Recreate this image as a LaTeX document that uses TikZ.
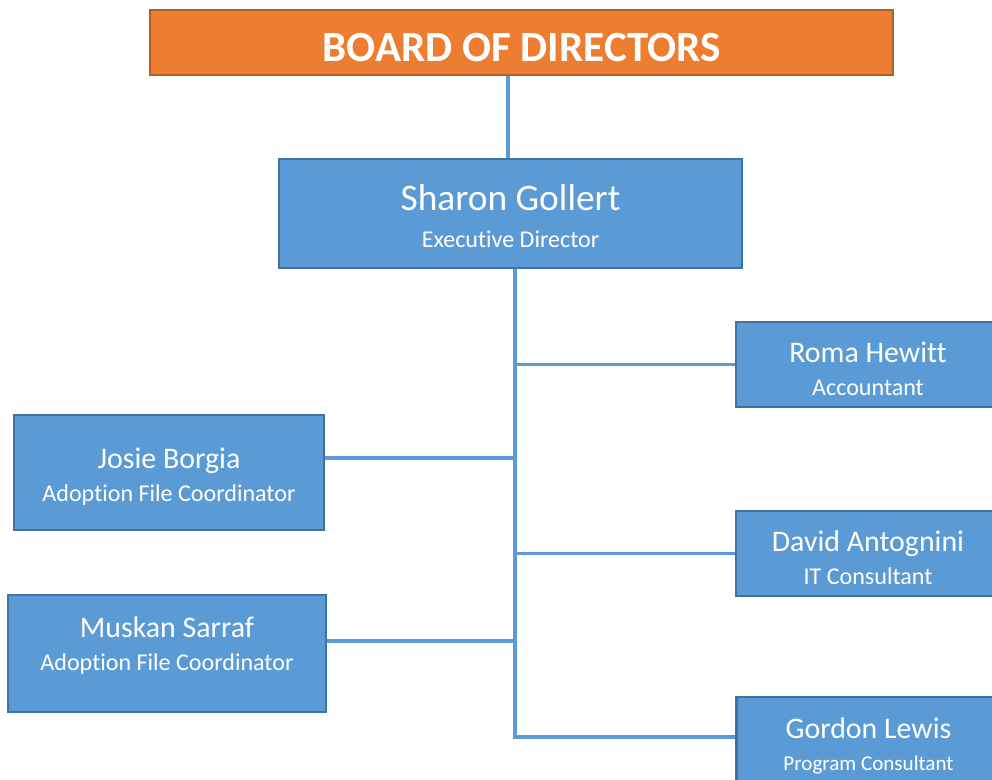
\documentclass[tikz,border=0pt]{standalone}
\usepackage{fontspec}
\setmainfont{Carlito}[Ligatures=NoCommon]
\usetikzlibrary{positioning}

\definecolor{boardfill}{HTML}{ED7D31}
\definecolor{boardedge}{HTML}{B15F25}
\definecolor{stafffill}{HTML}{5B9BD5}
\definecolor{staffedge}{HTML}{41719C}

\tikzset{
  board/.style={rectangle,fill=boardfill,draw=boardedge,line width=1.4pt,
    text=white,font=\fontsize{24.5}{30}\selectfont\bfseries,
    text height=21.8pt,text depth=0pt,
    minimum width=14.86cm,minimum height=1.3cm,inner sep=0pt},
  staff/.style={rectangle,fill=stafffill,draw=staffedge,line width=1.3pt,
    text=white,align=center,inner sep=0pt,
    font=\fontsize{17}{20}\selectfont,
    minimum width=5.28cm,minimum height=1.7cm},
  link/.style={draw=stafffill,line width=1.8pt}
}
\newcommand{\role}[1]{{\fontsize{13.7}{16}\selectfont #1}}
\newcommand{\person}[2]{\rule{0pt}{16.5pt}#1\\[-1pt]\role{#2}}

\begin{document}
\begin{tikzpicture}[x=0.02cm,y=-0.02cm]

\useasboundingbox (0,0) rectangle (992,779);
\clip (0,0) rectangle (992,779);

% top of the chart
\node[board] (board) at (521.5,42.5) {BOARD OF DIRECTORS};
\node[staff,minimum width=9.26cm,minimum height=2.18cm,
  font=\fontsize{21.3}{24}\selectfont] (sharon) at (510.5,213.5)
  {\rule{0pt}{18pt}Sharon Gollert\\[-3pt]\role{Executive Director}};

% right column
\node[staff] (roma) at (868,364.5) {\person{Roma Hewitt}{Accountant}};
\node[staff] (david) at (868,553.5) {\person{David Antognini}{IT Consultant}};
\node[staff,minimum height=1.8cm] (gordon) at (868.5,742)
  {\rule{0pt}{16.5pt}Gordon Lewis\\[-2pt]{\fontsize{12}{15}\selectfont Program Consultant}};

% left column
\node[staff,minimum width=6.2cm,minimum height=2.3cm] (josie) at (169,472.5)
  {\person{Josie Borgia}{Adoption File Coordinator}};
\node[staff,minimum width=6.36cm,minimum height=2.34cm,text depth=16pt] (muskan) at (167,653.5)
  {\person{Muskan Sarraf}{Adoption File Coordinator}};

% connectors
\coordinate (trunk) at ([xshift=0.09cm]sharon.south);
\draw[link] (board.south -| 508,0) -- (sharon.north -| 508,0);
\draw[link] (trunk) |- ([yshift=0.1cm]gordon.west);
\draw[link] (roma.west) -- (roma.west -| trunk);
\draw[link] (david.west) -- (david.west -| trunk);
\draw[link] ([yshift=0.29cm]josie.east) -- ([yshift=0.29cm]josie.east -| trunk);
\draw[link] ([yshift=0.25cm]muskan.east) -- ([yshift=0.25cm]muskan.east -| trunk);

\end{tikzpicture}
\end{document}
